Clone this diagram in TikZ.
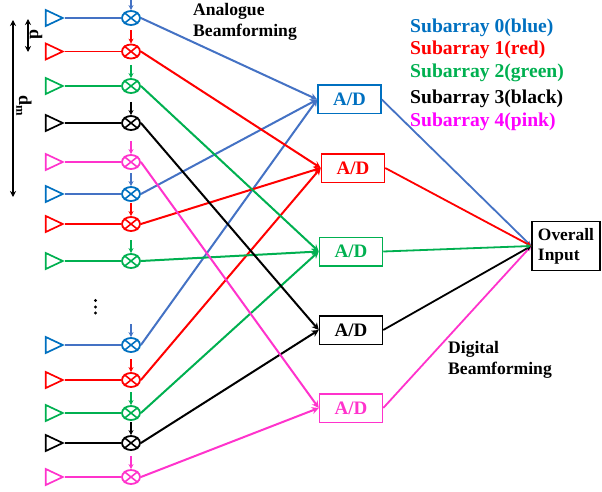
\documentclass[tikz,border=0pt]{standalone}
\usepackage{fontspec}
\setmainfont{Liberation Serif}
\usetikzlibrary{shapes.geometric,arrows.meta}
\definecolor{cblue}{HTML}{4472C4}
\definecolor{bblue}{HTML}{0070C0}
\definecolor{cred}{HTML}{FF0000}
\definecolor{cgreen}{HTML}{00B050}
\definecolor{cblack}{HTML}{000000}
\definecolor{cpink}{HTML}{FF33CC}
\definecolor{lpink}{HTML}{FF00FF}
\tikzset{
  antenna/.style={draw=#1,isosceles triangle,isosceles triangle stretches,minimum width=16pt,minimum height=17pt,inner sep=0pt,line width=1.7pt,anchor=apex},
  mixer/.style={draw=#1,ellipse,minimum width=18pt,minimum height=14pt,inner sep=0pt,line width=1.8pt},
  feed/.style={draw=#1,line width=1.6pt},
  link/.style={draw=#1,line width=2pt,-{Stealth[length=7pt,width=7pt]}},
  ctrl/.style={draw=#1,line width=1.7pt,-{Stealth[length=5pt,width=5pt]}},
  sumlink/.style={draw=#1,line width=1.8pt,-{Stealth[length=5pt,width=5pt]}},
  adbox/.style={draw=#1,line width=1.5pt,text=#1,font=\bfseries\fontsize{19}{21}\selectfont,minimum width=63pt,minimum height=28.5pt,inner sep=0pt},
  legend/.style={text=#1,font=\bfseries\fontsize{19.6}{21}\selectfont,anchor=west,inner sep=0pt},
  caption/.style={font=\bfseries\fontsize{17.6}{21}\selectfont,align=left,anchor=north west,inner sep=0pt},
  dimen/.style={line width=1.2pt,{Stealth[length=6pt,width=6pt]}-{Stealth[length=6pt,width=6pt]}},
}
\begin{document}
\begin{tikzpicture}[x=1pt,y=-1pt]
\useasboundingbox (0,0) rectangle (602,492);
\foreach \i/\y/\c in {0/18/cblue,1/51.5/cred,2/86/cgreen,3/123/cblack,4/162/cpink,5/194/cblue,6/224/cred,7/261/cgreen,8/345/cblue,9/380/cred,10/413/cgreen,11/443/cblack,12/477/cpink}{
  \ifnum\i=0 \def\ac{bblue}\else\ifnum\i=5 \def\ac{bblue}\else\ifnum\i=8 \def\ac{bblue}\else\def\ac{\c}\fi\fi\fi
  \node[antenna=\ac] (ant\i) at (65,\y) {};
  \node[mixer=\ac] (mix\i) at (131,\y) {};
  \draw[\ac,line width=1.6pt] (mix\i.north west) -- (mix\i.south east) (mix\i.north east) -- (mix\i.south west);
  \draw[feed=\c] (ant\i.apex) -- (mix\i.west);
  \coordinate (top\i) at (131,\y-21);
  \draw[ctrl=\c] (top\i) -- (mix\i.north);
}
\node[adbox=bblue] (ad0) at (349.5,99.5) {A/D};
\node[adbox=cred] (ad1) at (353,168) {A/D};
\node[adbox=cgreen] (ad2) at (351,251.5) {A/D};
\node[adbox=cblack] (ad3) at (351,330) {A/D};
\node[adbox=cpink] (ad4) at (351,408) {A/D};
\node[draw,line width=1.5pt,font=\bfseries\fontsize{17.4}{20}\selectfont,align=left,minimum width=68pt,minimum height=49pt,inner sep=0pt] (sum) at (566,246) {\raisebox{-1pt}{Overall}\\\raisebox{-1pt}{Input}};
\foreach \m/\a/\c in {0/0/cblue,5/0/cblue,8/0/cblue,1/1/cred,6/1/cred,9/1/cred,2/2/cgreen,7/2/cgreen,10/2/cgreen,3/3/cblack,11/3/cblack,4/4/cpink,12/4/cpink}{
  \draw[link=\c] (mix\m.east) -- (ad\a.west);
}
\foreach \a/\c in {0/cblue,1/cred,4/cpink,3/cblack,2/cgreen}{
  \draw[sumlink=\c] (ad\a.east) -- (sum.west);
}
\node[legend=bblue] (lg0) at (410,28) {Subarray 0(blue)};
\node[legend=cred] (lg1) at (410,50) {Subarray 1(red)};
\node[legend=cgreen] (lg2) at (410,73) {Subarray 2(green)};
\node[legend=cblack] (lg3) at (410,99) {Subarray 3(black)};
\node[legend=lpink] (lg4) at (410,122) {Subarray 4(pink)};
\node[caption] (cap0) at (193,3) {Analogue\\Beamforming};
\node[caption] (cap1) at (448,341.5) {Digital\\Beamforming};
\coordinate (pa) at (28,19); \coordinate (pb) at (28,52);
\coordinate (ma) at (13,20); \coordinate (mb) at (13,197);
\draw[dimen] (pa) -- (pb);
\draw[dimen] (ma) -- (mb);
\node[rotate=-90,font=\bfseries\fontsize{18}{20}\selectfont,inner sep=0pt] (lp) at (36,35) {d};
\node[rotate=-90,font=\bfseries\fontsize{18}{20}\selectfont,inner sep=0pt] (lm) at (24,106) {d\textsubscript{m}};
\fill (95.5,300.5) circle (1.7pt) (95.5,307) circle (1.7pt) (95.5,313) circle (1.7pt);
\end{tikzpicture}
\end{document}
